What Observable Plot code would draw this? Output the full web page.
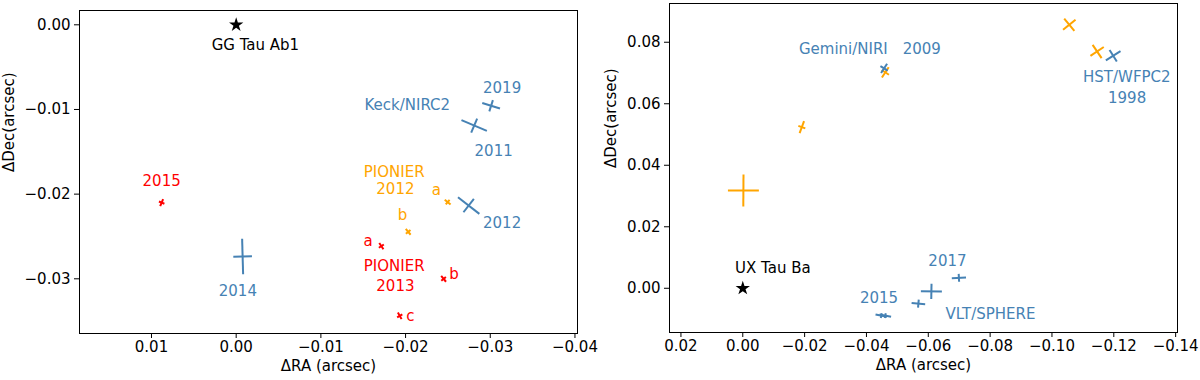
<!DOCTYPE html>
<html><head><meta charset="utf-8">
<script src="https://cdn.jsdelivr.net/npm/d3@7"></script>
<script src="https://cdn.jsdelivr.net/npm/@observablehq/plot@0.6"></script>
<style>
body{margin:0;background:#fff;}
#wrap{display:flex;width:1200px;height:380px;}
</style></head><body><div id="wrap"></div>
<script>
// ---------- Left panel: GG Tau Ab2 relative to Ab1 ----------
const ggPointGroup = ["Keck/NIRC2","Keck/NIRC2","Keck/NIRC2","Keck/NIRC2","PIONIER 2012","PIONIER 2012","PIONIER 2013","PIONIER 2013","PIONIER 2013","PIONIER 2013"];
const ggPointName  = ["2011","2019","2012","2014","2012 a","2012 b","2013 a","2013 b","2013 c","2015"];
const ggRA     = [-0.0281, -0.0301, -0.02745, -0.00076, -0.02497, -0.02031, -0.01714, -0.02449, -0.01931, 0.0088];
const ggDec    = [-0.0119, -0.00956, -0.02135, -0.02737, -0.02094, -0.02445, -0.02614, -0.0300, -0.03437, -0.0210];
const ggSepErr = [0.00163, 0.0011, 0.0016, 0.0021, 0.00045, 0.00045, 0.00045, 0.00045, 0.00045, 0.00045];
const ggTanErr = [0.0009, 0.0007, 0.0010, 0.0011, 0.00035, 0.00035, 0.00035, 0.00035, 0.00035, 0.00035];

const ggTextLabel = ["GG Tau Ab1","2015","2014","Keck/NIRC2","2019","2011","PIONIER","2012","a","2012","b","a","PIONIER","2013","b","c"];
const ggTextGroup = ["primary","PIONIER 2013","Keck/NIRC2","Keck/NIRC2","Keck/NIRC2","Keck/NIRC2","PIONIER 2012","PIONIER 2012","PIONIER 2012","Keck/NIRC2","PIONIER 2012","PIONIER 2013","PIONIER 2013","PIONIER 2013","PIONIER 2013","PIONIER 2013"];
const ggTextRA    = [-0.00227, 0.0088, -0.0002, -0.0202, -0.0314, -0.0304, -0.01865, -0.0188, -0.02363, -0.0314, -0.01963, -0.01557, -0.01865, -0.0188, -0.02571, -0.02058];
const ggTextDec   = [-0.00244, -0.01842, -0.03142, -0.00945, -0.00747, -0.01496, -0.01744, -0.0194, -0.01953, -0.02342, -0.02244, -0.02551, -0.02847, -0.0309, -0.02941, -0.03446];

const ggXTicks = [0.01, 0.00, -0.01, -0.02, -0.03, -0.04];
const ggYTicks = [0.00, -0.01, -0.02, -0.03];

// ---------- Right panel: UX Tau Bb relative to Ba ----------
const uxPointGroup = ["literature","literature","literature","literature","literature","this work","this work","this work","this work","this work","this work","this work"];
const uxRA     = [-0.0002, -0.0191, -0.0461, -0.1056, -0.1146, -0.0457, -0.1198, -0.0448, -0.0461, -0.0568, -0.0610, -0.0699];
const uxDec    = [0.0318, 0.0524, 0.0702, 0.0857, 0.0770, 0.0715, 0.0756, -0.0089, -0.0089, -0.0050, -0.0010, 0.0034];
const uxSepErr = [0.0052, 0.0021, 0.0020, 0.0026, 0.0026, 0.0018, 0.0028, 0.0019, 0.0019, 0.0022, 0.0034, 0.0023];
const uxTanErr = [0.0050, 0.0012, 0.0014, 0.0026, 0.0026, 0.0014, 0.0022, 0.0008, 0.0008, 0.0013, 0.0025, 0.0013];

const uxTextLabel = ["UX Tau Ba","Gemini/NIRI","2009","HST/WFPC2","1998","2017","2015","VLT/SPHERE"];
const uxTextGroup = ["primary","this work","this work","this work","this work","this work","this work","this work"];
const uxTextRA    = [-0.00974, -0.03253, -0.0579, -0.1242, -0.1243, -0.0662, -0.04406, -0.0801];
const uxTextDec   = [0.0064, 0.0778, 0.0778, 0.0688, 0.0618, 0.00877, -0.00334, -0.00844];

const uxXTicks = [0.02, 0.00, -0.02, -0.04, -0.06, -0.08, -0.10, -0.12, -0.14];
const uxYTicks = [0.00, 0.02, 0.04, 0.06, 0.08];

const xLabel = "ΔRA (arcsec)";
const yLabel = "ΔDec(arcsec)";

// error-bar arms: radial (separation) and tangential (position angle) around the primary at origin
function arms(ra, dec, sepErr, tanErr, group) {
  const out = [];
  ra.forEach((x, i) => {
    const y = dec[i], r = Math.hypot(x, y);
    const ux = x / r, uy = y / r, tx = -uy, ty = ux;
    const s = sepErr[i], t = tanErr[i];
    out.push({x1: x - s*ux, y1: y - s*uy, x2: x + s*ux, y2: y + s*uy, g: group[i]});
    out.push({x1: x - t*tx, y1: y - t*ty, x2: x + t*tx, y2: y + t*ty, g: group[i]});
  });
  return out;
}

const FS = 15;
function panel(o) {
  const segs = arms(o.ra, o.dec, o.sepErr, o.tanErr, o.group);
  const idx = o.textLabel.map((_, i) => i);
  return Plot.plot({
    width: 600, height: 380,
    marginLeft: o.ml, marginRight: o.mr, marginTop: o.mt, marginBottom: o.mb,
    style: {fontFamily: "DejaVu Sans", fontSize: FS + "px", background: "white", color: "black", overflow: "visible"},
    x: {domain: o.xDomain},
    y: {domain: o.yDomain},
    color: {type: "ordinal", domain: o.colorDomain, range: o.colorRange},
    marks: [
      Plot.frame({stroke: "black", strokeWidth: 1}),
      Plot.axisX({ticks: o.xTicks, tickFormat: d3.format(".2f"), tickSize: 5, tickPadding: 3, label: null, fontSize: FS}),
      Plot.axisY({ticks: o.yTicks, tickFormat: d3.format(".2f"), tickSize: 5, tickPadding: 4, label: null, fontSize: FS}),
      Plot.link(segs, {x1: "x1", y1: "y1", x2: "x2", y2: "y2", stroke: "g", strokeWidth: 2}),
      Plot.dot([0], {x: () => 0, y: () => 0, symbol: "star", fill: "black", r: 4.5}),
      Plot.text(idx, {x: i => o.textRA[i], y: i => o.textDec[i], text: i => o.textLabel[i], fill: i => o.textGroup[i], fontSize: FS, textAnchor: "middle"}),
      Plot.text([xLabel], {frameAnchor: "bottom", dy: 37, text: d => d, fontSize: FS}),
      Plot.text([yLabel], {frameAnchor: "left", dx: o.ylDx, rotate: -90, text: d => d, fontSize: FS})
    ]
  });
}

const wrap = document.getElementById("wrap");
wrap.append(panel({
  ml: 79, mr: 23, mt: 10, mb: 47,
  xDomain: [0.0185, -0.0403], yDomain: [-0.03646, 0.00169],
  xTicks: ggXTicks, yTicks: ggYTicks,
  ra: ggRA, dec: ggDec, sepErr: ggSepErr, tanErr: ggTanErr, group: ggPointGroup,
  textLabel: ggTextLabel, textGroup: ggTextGroup, textRA: ggTextRA, textDec: ggTextDec,
  colorDomain: ["primary","Keck/NIRC2","PIONIER 2012","PIONIER 2013"],
  colorRange: ["black","#4682b4","#ffa500","#ff0000"],
  ylDx: -70
}));
wrap.append(panel({
  ml: 69, mr: 23, mt: 3, mb: 48,
  xDomain: [0.0237, -0.1406], yDomain: [-0.01438, 0.0926],
  xTicks: uxXTicks, yTicks: uxYTicks,
  ra: uxRA, dec: uxDec, sepErr: uxSepErr, tanErr: uxTanErr, group: uxPointGroup,
  textLabel: uxTextLabel, textGroup: uxTextGroup, textRA: uxTextRA, textDec: uxTextDec,
  colorDomain: ["primary","this work","literature"],
  colorRange: ["black","#4682b4","#ffa500"],
  ylDx: -58
}));
</script></body></html>
